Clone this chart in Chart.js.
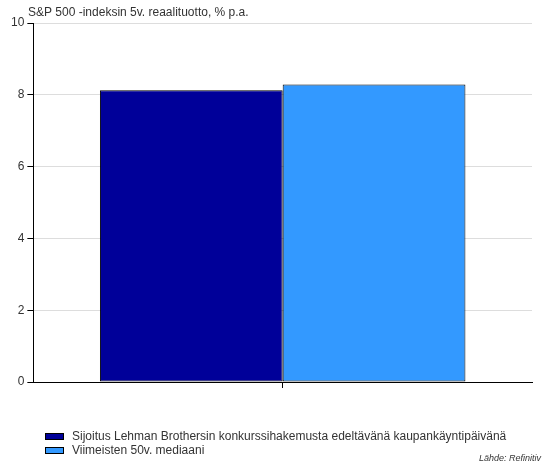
<!DOCTYPE html>
<html>
<head>
<meta charset="utf-8">
<script src="https://cdn.jsdelivr.net/npm/chart.js@4"></script>
<style>
  body { margin: 0; background: #fff; }
  #wrap { position: relative; width: 552px; height: 469px; }
</style>
</head>
<body>
<div id="wrap"><canvas id="myChart"></canvas></div>
<script>
const chartTitle = "S&P 500 -indeksin 5v. reaalituotto, % p.a.";
const sourceText = "Lähde: Refinitiv";
const categories = [""];
const seriesLabels = [
    "Sijoitus Lehman Brothersin konkurssihakemusta edeltävänä kaupankäyntipäivänä",
    "Viimeisten 50v. mediaani"
];
const lehmanValues = [8.13];
const medianValues = [8.29];
const seriesColors = ["#000099", "#3399FF"];
const yTicks = [0, 2, 4, 6, 8, 10];

const FONT = "'Liberation Sans', Arial, sans-serif";

// Title, legend and source text drawn on the canvas
const extraText = {
    id: "extraText",
    afterDraw(chart) {
        const ctx = chart.ctx;
        ctx.save();
        ctx.textBaseline = "middle";
        ctx.fillStyle = "#333";
        ctx.font = "12px " + FONT;
        ctx.textAlign = "left";
        ctx.fillText(chartTitle, 28, 13);

        chart.data.datasets.forEach((ds, i) => {
            const y = 433 + i * 14;
            ctx.fillStyle = ds.backgroundColor;
            ctx.fillRect(45, y, 19, 7);
            ctx.strokeStyle = "#000";
            ctx.lineWidth = 1;
            ctx.strokeRect(45.5, y + 0.5, 18, 6);
            ctx.fillStyle = "#333";
            ctx.fillText(ds.label, 72, y + 3.5);
        });

        ctx.font = "italic 9px " + FONT;
        ctx.textAlign = "right";
        ctx.fillText(sourceText, 541, 458);
        ctx.restore();
    }
};

const ctx = document.getElementById("myChart").getContext("2d");
const myChart = new Chart(ctx, {
    type: "bar",
    data: {
        labels: categories,
        datasets: [
            {
                label: seriesLabels[0],
                data: lehmanValues,
                backgroundColor: seriesColors[0],
                borderColor: "#000",
                borderWidth: 1,
                borderSkipped: false
            },
            {
                label: seriesLabels[1],
                data: medianValues,
                backgroundColor: seriesColors[1],
                borderColor: "#000",
                borderWidth: 1,
                borderSkipped: false
            }
        ]
    },
    options: {
        responsive: true,
        maintainAspectRatio: false,
        animation: false,
        categoryPercentage: 0.733,
        barPercentage: 1,
        layout: { padding: { left: 8, right: 20, top: 23, bottom: 81 } },
        plugins: {
            legend: { display: false },
            title: { display: false },
            tooltip: { enabled: false }
        },
        scales: {
            x: {
                offset: true,
                grid: {
                    offset: false,
                    drawOnChartArea: false,
                    color: "#000",
                    tickLength: 6
                },
                border: { color: "#000", width: 1 },
                ticks: { display: false }
            },
            y: {
                min: 0,
                max: 10,
                afterBuildTicks: (axis) => {
                    axis.ticks = yTicks.map(v => ({ value: v }));
                },
                grid: {
                    color: "#ddd",
                    tickColor: "#000",
                    tickLength: 6
                },
                border: { color: "#000", width: 1 },
                ticks: {
                    padding: 3,
                    color: "#333",
                    font: { family: FONT, size: 12 }
                }
            }
        }
    },
    plugins: [extraText]
});
</script>
</body>
</html>
